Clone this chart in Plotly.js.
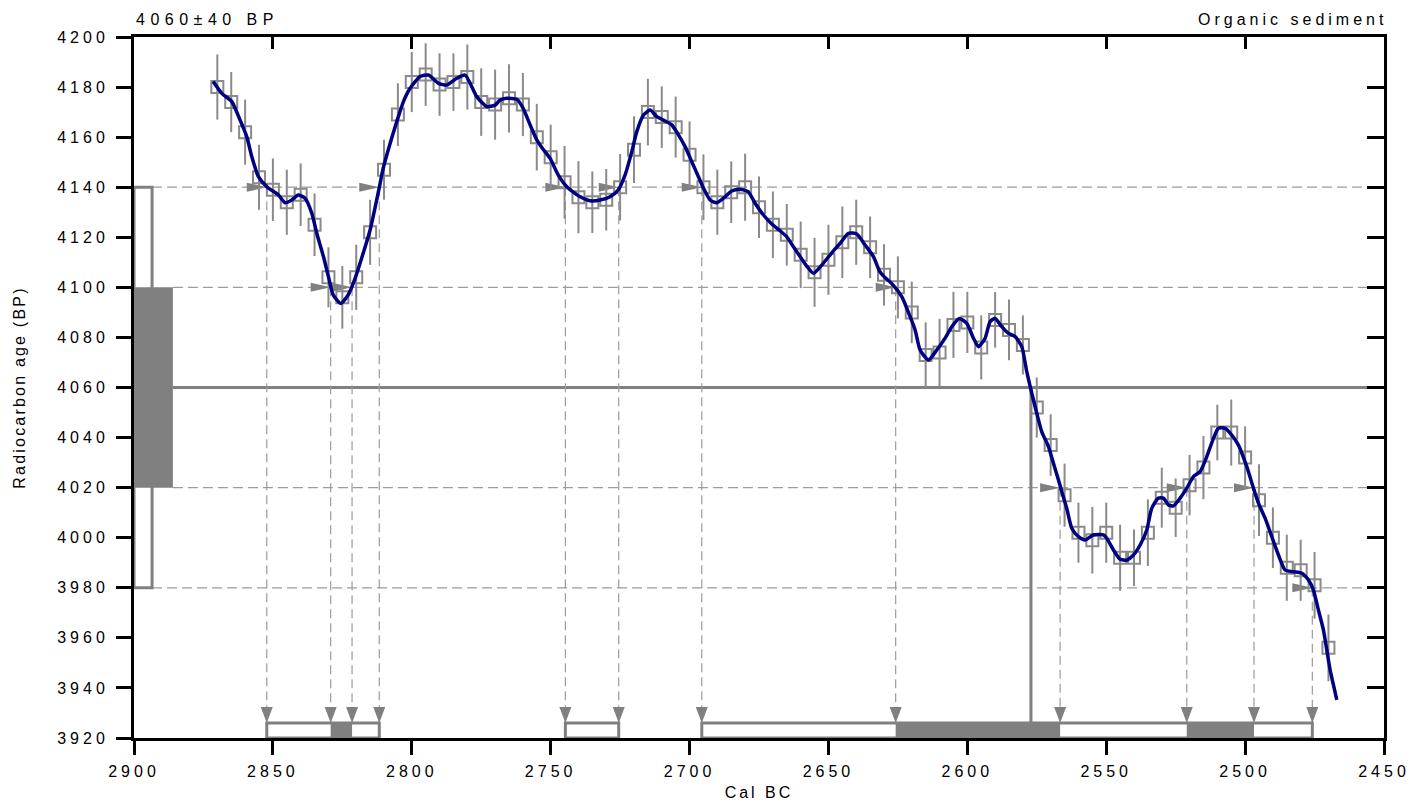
<!DOCTYPE html>
<html><head><meta charset="utf-8">
<script src="https://cdn.plot.ly/plotly-3.0.1.min.js"></script>
<style>
body{margin:0;background:#fff}
#chart{width:1421px;height:804px}
.main-svg text{letter-spacing:3px}
.main-svg .xtick text, .main-svg .ytick text{letter-spacing:4px}
.main-svg .ytitle{letter-spacing:2.2px}
.main-svg .annotation[data-index="0"] text{letter-spacing:5.5px}
.main-svg .annotation[data-index="1"] text{letter-spacing:4px}
</style></head><body><div id="chart"></div>
<script>
// ---------- data ----------
const sampleLabel = '4060±40 BP';
const materialLabel = 'Organic sediment';
const xTitle = 'Cal BC';
const yTitle = 'Radiocarbon age (BP)';
const dateMean = 4060;
const dateSigma = 40;

const xTicks = [2900, 2850, 2800, 2750, 2700, 2650, 2600, 2550, 2500, 2450];
const yTicks = [3920, 3940, 3960, 3980, 4000, 4020, 4040, 4060, 4080, 4100, 4120, 4140, 4160, 4180, 4200];

// calibration data points (5-year) with 1-sigma errors
const sqYears = [2870,2865,2860,2855,2850,2845,2840,2835,2830,2825,2820,2815,2810,2805,2800,2795,2790,2785,2780,2775,2770,
  2765,2760,2755,2750,2745,2740,2735,2730,2725,2720,2715,2710,2705,2700,2695,2690,2685,2680,2675,2670,2665,2660,2655,2650,2645,2640,2635,
  2630,2625,2620,2615,2610,2605,2600,2595,2590,2585,2580,2575,2570,2565,2560,2555,2550,
  2545,2540,2535,2530,2525,2520,2515,2510,2505,2500,2495,2490,2485,2480,2475,2470];
const sqAges = [4180,4174,4162,4144,4139,4134,4137,4125,4104,4096,4104,4122,4147,4169,4182,4185,4181,4182,4184,4174,4173,
  4175.5,4173,4160,4152,4142,4136,4134,4135,4140,4155,4170,4168,4164,4153,4140,4134,4138,4140,4132,4125,4121,4113,4106,4111,4118,4122,4116,
  4105,4100,4090,4073,4074,4085,4086,4076,4087,4083,4077,4052,4037,4017,4002,3999,4002,
  3992,3992,4002,4016,4012,4021,4028,4042,4042,4032,4015,4000,3988,3987,3981,3956];
const sqErr = [13,12,13,13,12.5,13,12.5,12.5,12,12.5,13,13,12,12.5,12,12.5,12.5,11.5,13,13.5,14,
  13.6,12.6,13.3,13,14.5,14.4,12.3,12.3,13.3,13.3,13.3,12.3,12.2,13.3,13.1,13,12.3,13.4,12.3,13.3,12.3,13.3,13.8,14,14.3,13,12.3,
  12.2,12.4,12.3,13,13.4,13.2,12.2,12.8,11.1,12.1,11.8,12,12.3,12.6,12,13.3,12,
  13.2,11.3,13.3,12,11.7,12.1,12.6,11.1,13.2,12.5,14.3,12.1,13.2,12.2,13.3,13.3];

// smoothed calibration curve
const curveYears = [2871.5,2868.4,2864.8,2861.8,2859.4,2857.6,2855.2,2852.2,2848.0,2845.6,2843.2,2840.9,2838.4,2836.0,2834.2,2831.8,2830.0,2828.3,2825.6,2822.9,2820.4,2817.5,2815.0,2812.0,2810.3,2807.8,2805.4,2803.0,2800.6,2797.0,2794.0,2790.4,2787.4,2783.8,2780.8,2776.6,2773.0,2770.0,
  2768.2,2765.8,2762.2,2759.9,2757.4,2755.0,2753.2,2750.2,2747.3,2744.2,2739.4,2735.8,2732.2,2728.6,2725.7,2723.2,2720.8,2719.0,2716.6,2714.2,2711.8,2709.4,2706.4,2704.0,2701.6,2699.2,2696.8,2695.0,2692.6,2690.2,2687.8,2684.8,2681.8,2678.9,2676.4,2673.4,2670.4,2667.4,2665.0,2662.6,2660.2,2657.8,2655.4,2652.4,2648.8,2645.8,2642.8,2639.8,2636.8,2633.8,2631.7,
  2630.5,2626.7,2623.6,2620.6,2618.8,2617.0,2614.0,2611.0,2608.0,2605.6,2602.9,2600.2,2597.8,2596.0,2593.6,2591.8,2590.0,2587.6,2585.3,2582.8,2580.4,2578.6,2576.8,2575.0,2573.2,2570.8,2569.0,2567.2,2566.0,2564.2,2562.4,2560.0,2557.6,2554.6,2551.0,
  2549.8,2547.4,2545.0,2542.6,2540.2,2537.8,2535.4,2533.6,2531.2,2529.4,2527.6,2525.8,2523.4,2521.0,2518.6,2516.2,2513.8,2511.4,2509.6,2507.2,2504.8,2502.4,2499.4,2497.0,2495.2,2492.8,2490.4,2488.0,2485.6,2482.6,2479.6,2477.2,2475.4,2473.6,2471.8,2470.6,2469.4,2468.2,2467.0];
const curveAges = [4182.2,4177.5,4174.2,4166.8,4160.2,4152.2,4144.2,4140.2,4136.9,4133.8,4134.9,4136.9,4135.6,4129.6,4121.6,4112.3,4104.3,4097.0,4093.6,4097.0,4103.6,4113.6,4122.9,4138.2,4147.5,4157.5,4166.2,4174.2,4179.5,4184.2,4184.8,4181.5,4180.8,4183.5,4184.8,4176.2,4172.2,4172.8,
  4174.8,4175.5,4175.1,4171.5,4164.9,4158.9,4155.9,4151.5,4144.9,4140.2,4136.2,4134.6,4134.9,4136.2,4138.9,4144.9,4154.2,4162.2,4168.8,4170.8,4168.2,4166.8,4164.9,4160.9,4156.2,4150.2,4144.2,4139.6,4134.9,4133.8,4135.6,4138.5,4139.2,4138.2,4133.6,4128.9,4125.3,4122.6,4120.2,4116.2,4112.3,4108.5,4105.6,4108.9,4113.8,4117.6,4121.6,4121.3,4116.9,4112.3,4106.7,
  4104.9,4100.9,4096.3,4088.3,4083.0,4075.0,4071.0,4075.0,4079.7,4084.3,4087.6,4085.6,4079.7,4076.3,4079.7,4086.3,4087.6,4084.3,4081.7,4080.3,4076.3,4066.3,4057.7,4049.7,4042.3,4036.4,4029.7,4023.1,4018.4,4011.7,4003.8,4000.4,3999.1,4001.1,4001.1,
  3999.8,3995.1,3991.4,3991.1,3993.1,3997.1,4003.1,4011.8,4015.8,4015.8,4013.1,4012.7,4015.8,4019.8,4024.4,4026.4,4032.4,4039.7,4043.7,4043.7,4041.0,4037.0,4028.4,4019.8,4013.8,4007.8,4000.4,3993.1,3987.1,3986.4,3985.8,3983.1,3979.1,3971.1,3963.1,3955.2,3947.2,3941.2,3935.2];

// curve crossings of the sigma levels (cal BC)
const cross2sHigh = [2852.2, 2811.7, 2744.7, 2725.5, 2695.6]; // at mean + 2 sigma
const cross1sHigh = [2829.2, 2821.5, 2625.8];                 // at mean + 1 sigma
const cross1sLow  = [2566.6, 2521.0, 2496.8];                 // at mean - 1 sigma
const cross2sLow  = [2475.8];                                 // at mean - 2 sigma
// calibrated ranges
const range2s = [[2852.2, 2811.7], [2744.7, 2725.5], [2695.6, 2475.8]];
const range1s = [[2829.2, 2821.5], [2625.8, 2566.6], [2521.0, 2496.8]];
const interceptYear = 2577.1;

// ---------- styling constants ----------
const GRAY = '#808080';
const DASH = '#9c9c9c';
const FONT = 'Liberation Sans, Arial, sans-serif';
const X0 = 2900, X1 = 2450, Y0 = 3920, Y1 = 4200;
const boxOuterX = 2893.5, boxInnerX = 2886;
const barTop = 3926;

const shapes = [];
// horizontal dashed level lines
[[dateMean + 2*dateSigma, boxOuterX], [dateMean + dateSigma, boxInnerX],
 [dateMean - dateSigma, boxInnerX], [dateMean - 2*dateSigma, boxOuterX]].forEach(([lv, xs]) => {
  shapes.push({type:'line', layer:'below', xref:'x', yref:'y', x0:xs, x1:X1, y0:lv, y1:lv,
    line:{color:DASH, width:1.2, dash:'10px,5px'}});
});
// mean line
shapes.push({type:'line', layer:'below', xref:'x', yref:'y', x0:boxInnerX, x1:X1, y0:dateMean, y1:dateMean,
  line:{color:GRAY, width:3}});
// date boxes
shapes.push({type:'rect', layer:'below', xref:'x', yref:'y', x0:X0, x1:boxOuterX,
  y0:dateMean - 2*dateSigma, y1:dateMean + 2*dateSigma, line:{color:GRAY, width:3}, fillcolor:'rgba(0,0,0,0)'});
shapes.push({type:'rect', layer:'below', xref:'x', yref:'y', x0:X0, x1:boxInnerX,
  y0:dateMean - dateSigma, y1:dateMean + dateSigma, line:{width:0}, fillcolor:GRAY});
// crossings: right arrows on level, vertical dashed drop, down arrow on bar
[[cross2sHigh, dateMean + 2*dateSigma], [cross1sHigh, dateMean + dateSigma],
 [cross1sLow, dateMean - dateSigma], [cross2sLow, dateMean - 2*dateSigma]].forEach(([arr, lv]) => {
  arr.forEach(yr => {
    shapes.push({type:'line', layer:'below', xref:'x', yref:'y', x0:yr, x1:yr, y0:lv, y1:barTop,
      line:{color:DASH, width:1.2, dash:'9px,5px'}});
    shapes.push({type:'path', layer:'below', xref:'x', yref:'y', xsizemode:'pixel', ysizemode:'pixel',
      xanchor:yr, yanchor:lv, path:'M -20,-4.5 L 0,0 L -20,4.5 Z', fillcolor:GRAY, line:{width:0}});
    shapes.push({type:'path', layer:'below', xref:'x', yref:'y', xsizemode:'pixel', ysizemode:'pixel',
      xanchor:yr, yanchor:barTop, path:'M -6,16 L 6,16 L 0,0 Z', fillcolor:GRAY, line:{width:0}});
  });
});
// intercept line
shapes.push({type:'line', layer:'below', xref:'x', yref:'y', x0:interceptYear, x1:interceptYear,
  y0:dateMean, y1:barTop, line:{color:GRAY, width:3}});
// range bars
range2s.forEach(([a, b]) => shapes.push({type:'rect', layer:'below', xref:'x', yref:'y', x0:a, x1:b, y0:Y0, y1:barTop,
  line:{color:GRAY, width:3}, fillcolor:'#ffffff'}));
range1s.forEach(([a, b]) => shapes.push({type:'rect', layer:'below', xref:'x', yref:'y', x0:a, x1:b, y0:Y0, y1:barTop,
  line:{width:0}, fillcolor:GRAY}));

const traces = [
  {x:sqYears, y:sqAges, type:'scatter', mode:'markers',
   marker:{symbol:'square-open', size:12, color:'#8a8a8a', line:{width:2, color:'#8a8a8a'}},
   error_y:{type:'data', array:sqErr, visible:true, color:'#8a8a8a', thickness:2, width:0},
   hoverinfo:'skip', showlegend:false},
  {x:curveYears, y:curveAges, type:'scatter', mode:'lines',
   line:{color:'#000080', width:3.5, shape:'spline', smoothing:0.6},
   hoverinfo:'skip', showlegend:false},
  {x:[X0], y:[Y1], xaxis:'x2', yaxis:'y2', type:'scatter', mode:'markers', marker:{opacity:0},
   hoverinfo:'skip', showlegend:false}
];

const axisCommon = {showgrid:false, zeroline:false, showline:true, linecolor:'#000', linewidth:3,
  tickcolor:'#000', tickwidth:3, tickfont:{family:FONT, size:16, color:'#000'}};

const layout = {
  width:1421, height:804,
  margin:{l:134, r:37, t:37, b:66},
  paper_bgcolor:'#fff', plot_bgcolor:'#fff',
  font:{family:FONT, size:16, color:'#000'},
  showlegend:false,
  xaxis:Object.assign({}, axisCommon, {range:[X0, X1], tickmode:'array', tickvals:xTicks,
    ticks:'outside', ticklen:14, ticklabelstandoff:3,
    title:{text:xTitle, font:{family:FONT, size:16}, standoff:8}}),
  yaxis:Object.assign({}, axisCommon, {range:[Y0, Y1], tickmode:'array', tickvals:yTicks,
    ticks:'outside', ticklen:15, ticklabelstandoff:4,
    title:{text:yTitle, font:{family:FONT, size:16}, standoff:44}}),
  xaxis2:Object.assign({}, axisCommon, {range:[X0, X1], overlaying:'x', side:'top', anchor:'y',
    tickmode:'array', tickvals:xTicks, ticks:'inside', ticklen:12, showticklabels:false}),
  yaxis2:Object.assign({}, axisCommon, {range:[Y0, Y1], overlaying:'y', side:'right', anchor:'x',
    tickmode:'array', tickvals:yTicks, ticks:'inside', ticklen:17, showticklabels:false}),
  shapes:shapes,
  annotations:[
    {text:sampleLabel, xref:'paper', yref:'paper', x:0, y:1, xanchor:'left', yanchor:'bottom',
     width:170, align:'left', xshift:0, yshift:7, showarrow:false, font:{family:FONT, size:16, color:'#000'}},
    {text:materialLabel, xref:'paper', yref:'paper', x:1, y:1, xanchor:'right', yanchor:'bottom',
     width:230, align:'right', xshift:6, yshift:7, showarrow:false, font:{family:FONT, size:16, color:'#000'}}
  ]
};

Plotly.newPlot('chart', traces, layout, {staticPlot:true, displayModeBar:false});
</script></body></html>
